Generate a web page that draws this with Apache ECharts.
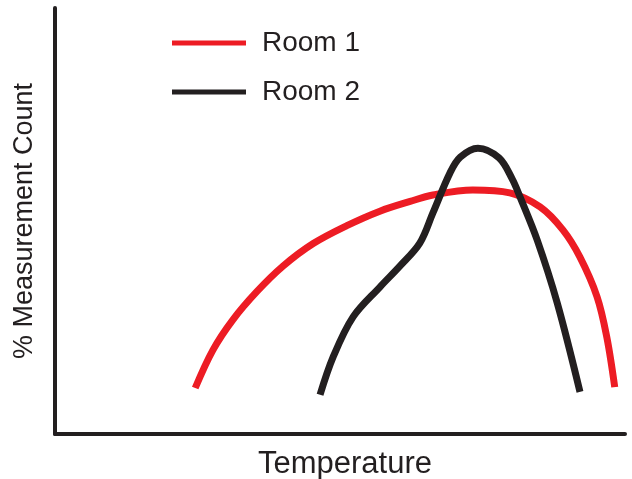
<!DOCTYPE html>
<html>
<head>
<meta charset="utf-8">
<script src="https://cdn.jsdelivr.net/npm/echarts@6/dist/echarts.min.js"></script>
<style>html,body{margin:0;padding:0;background:#fff}#c{width:632px;height:479px}</style>
</head>
<body>
<div id="c"></div>
<script>
const seriesNames = ['Room 1', 'Room 2'];
const room1X = [24.6, 27.7, 31.2, 35.4, 40.0, 45.3, 51.2, 57.0, 62.3, 66.3, 73.3, 79.8, 85.1, 89.1, 92.1, 95.1, 96.8, 98.2];
const room1Y = [10.8, 19.7, 26.8, 33.4, 39.4, 44.7, 48.9, 52.3, 54.6, 56.1, 57.3, 56.6, 53.3, 47.9, 41.5, 32.2, 22.8, 11.0];
const room2X = [46.5, 48.8, 52.3, 57.0, 60.5, 64.0, 66.3, 69.3, 71.1, 74.2, 77.9, 80.2, 81.6, 84.6, 88.1, 92.1];
const room2Y = [9.2, 18.1, 27.5, 34.5, 39.4, 44.8, 51.9, 61.3, 65.0, 67.1, 64.8, 59.9, 55.6, 45.5, 30.8, 9.9];
const xName = 'Temperature';
const yName = '% Measurement Count';

const ink = '#231F20';
const red = '#ED1C24';
const font = 'Liberation Sans, Arial, Helvetica, sans-serif';

const chart = echarts.init(document.getElementById('c'));
chart.setOption({
  animation: false,
  grid: { left: 55, right: 7, top: 8, bottom: 45, containLabel: false, outerBoundsMode: 'none' },
  legend: {
    orient: 'vertical', left: 167, top: 24,
    itemWidth: 74, itemHeight: 5, itemGap: 21,
    icon: 'rect',
    data: seriesNames,
    textStyle: { fontSize: 28, color: ink, fontFamily: font, lineHeight: 28, padding: [0, 0, 0, 11] }
  },
  xAxis: {
    type: 'value', min: 0, max: 100,
    name: xName, nameLocation: 'middle', nameGap: 15,
    nameTextStyle: { fontSize: 31, color: ink, fontFamily: font, padding: [0, 0, 0, 10] },
    axisLine: { show: true, lineStyle: { color: ink, width: 4 } },
    axisTick: { show: false }, axisLabel: { show: false }, splitLine: { show: false }
  },
  yAxis: {
    type: 'value', min: 0, max: 100,
    name: yName, nameLocation: 'middle', nameGap: 17,
    nameTextStyle: { fontSize: 27, color: ink, fontFamily: font },
    axisLine: { show: true, lineStyle: { color: ink, width: 4 } },
    axisTick: { show: false }, axisLabel: { show: false }, splitLine: { show: false }
  },
  series: [
    {
      name: seriesNames[0], type: 'line', smooth: 0.35, symbol: 'none',
      itemStyle: { color: red },
      lineStyle: { color: red, width: 7, cap: 'butt' },
      data: room1X.map((x, i) => [x, room1Y[i]])
    },
    {
      name: seriesNames[1], type: 'line', smooth: 0.35, symbol: 'none',
      itemStyle: { color: ink },
      lineStyle: { color: ink, width: 7, cap: 'butt' },
      data: room2X.map((x, i) => [x, room2Y[i]])
    }
  ]
});
</script>
</body>
</html>
